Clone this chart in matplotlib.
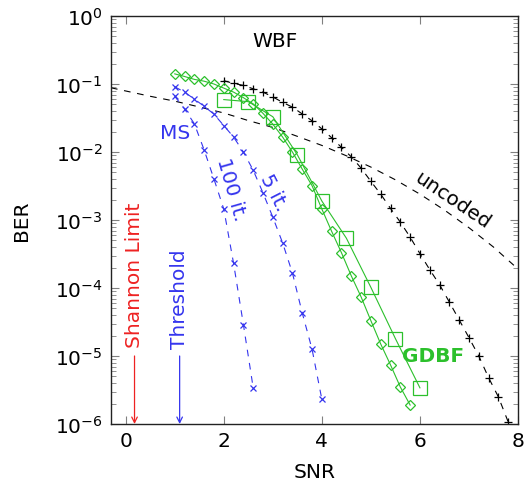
import numpy as np
import matplotlib
matplotlib.use("Agg")
import matplotlib.pyplot as plt

GREEN = '#2cc02c'
BLUE = '#3535ee'
RED = '#ee2222'

# uncoded BPSK reference
snr_unc = [-0.3, 0, 0.5, 1, 1.5, 2, 2.5, 3, 3.5, 4, 4.5, 5, 5.5, 6, 6.5, 7, 7.5, 8]
ber_unc = [0.088, 0.079, 0.066, 0.056, 0.046, 0.0375, 0.029, 0.023, 0.017, 0.0125,
           0.0088, 0.006, 0.0039, 0.0024, 0.0014, 0.00077, 0.0004, 0.00019]

# WBF
snr_wbf = [2.0, 2.2, 2.4, 2.6, 2.8, 3.0, 3.2, 3.4, 3.6, 3.8, 4.0, 4.2, 4.4, 4.6, 4.8,
           5.0, 5.2, 5.4, 5.6, 5.8, 6.0, 6.2, 6.4, 6.6, 6.8, 7.0, 7.2, 7.4, 7.6, 7.8]
ber_wbf = [0.112, 0.102, 0.0955, 0.085, 0.076, 0.0646, 0.0537, 0.0457, 0.0363, 0.0288,
           0.0219, 0.0162, 0.0117, 0.0085, 0.0058, 0.0037, 0.0024, 0.00148, 0.00093,
           0.00056, 0.00032, 0.000186, 0.000112, 6.2e-5, 3.4e-5, 1.86e-5, 1.0e-5,
           4.8e-6, 2.5e-6, 1.07e-6]

# GDBF (diamonds / squares)
snr_gd1 = [1.0, 1.2, 1.4, 1.6, 1.8, 2.0, 2.2, 2.4, 2.6, 2.8, 3.0, 3.2, 3.4, 3.6, 3.8,
           4.0, 4.2, 4.4, 4.6, 4.8, 5.0, 5.2, 5.4, 5.6, 5.8]
ber_gd1 = [0.141, 0.129, 0.117, 0.110, 0.100, 0.087, 0.076, 0.063, 0.051, 0.037,
           0.0257, 0.0166, 0.0100, 0.0056, 0.0032, 0.00145, 0.00068, 0.00033,
           0.000151, 7.4e-5, 3.3e-5, 1.5e-5, 7.4e-6, 3.5e-6, 1.9e-6]
snr_gd2 = [2.0, 2.5, 3.0, 3.5, 4.0, 4.5, 5.0, 5.5, 6.0]
ber_gd2 = [0.059, 0.055, 0.033, 0.0091, 0.0019, 0.00054, 0.000102, 1.8e-5, 3.4e-6]

# MS decoding
snr_ms100 = [1.0, 1.2, 1.4, 1.6, 1.8, 2.0, 2.2, 2.4, 2.6]
ber_ms100 = [0.066, 0.043, 0.026, 0.0107, 0.004, 0.00145, 0.00023, 2.9e-5, 3.4e-6]
snr_ms5 = [1.0, 1.2, 1.4, 1.6, 1.8, 2.0, 2.2, 2.4, 2.6, 2.8, 3.0, 3.2, 3.4, 3.6, 3.8, 4.0]
ber_ms5 = [0.091, 0.076, 0.060, 0.047, 0.036, 0.0245, 0.0166, 0.0100, 0.0054,
           0.0025, 0.0011, 0.00046, 0.000166, 4.3e-5, 1.26e-5, 2.3e-6]

shannon_snr = 0.18
threshold_snr = 1.1

FS = 14.5
plt.rcParams['font.family'] = 'DejaVu Sans'
fig = plt.figure(figsize=(5.25, 4.89), dpi=100)
ax = fig.add_axes([0.2114, 0.1309, 0.7753, 0.8343])

lw = 0.8
dash = (6, 6)
ax.plot(snr_unc, ber_unc, color='black', lw=lw, dashes=dash)
ax.plot(snr_wbf, ber_wbf, color='black', lw=lw, dashes=dash,
        marker='+', ms=5.5, mew=0.9)
ax.plot(snr_gd1, ber_gd1, color=GREEN, lw=lw, marker='D', ms=5.5,
        mfc='none', mew=0.9)
ax.plot(snr_gd2, ber_gd2, color=GREEN, lw=lw, marker='s', ms=10,
        mfc='none', mew=0.9)
ax.plot(snr_ms100, ber_ms100, color=BLUE, lw=lw, dashes=dash,
        marker='x', ms=4.5, mew=0.9)
ax.plot(snr_ms5, ber_ms5, color=BLUE, lw=lw, dashes=dash,
        marker='x', ms=4.5, mew=0.9)

# limits marked with arrows
ax.annotate('', xy=(shannon_snr, 1e-6), xytext=(shannon_snr, 1e-5),
            arrowprops=dict(arrowstyle='->', color=RED, lw=0.9, shrinkA=0, shrinkB=0))
ax.annotate('', xy=(threshold_snr, 1e-6), xytext=(threshold_snr, 1e-5),
            arrowprops=dict(arrowstyle='->', color=BLUE, lw=0.9, shrinkA=0, shrinkB=0))
ax.text(shannon_snr, 1.6e-4, 'Shannon Limit', color=RED, rotation=90,
        ha='center', va='center', fontsize=FS)
ax.text(threshold_snr, 7.2e-5, 'Threshold', color=BLUE, rotation=90,
        ha='center', va='center', fontsize=FS)

ax.text(3.04, 0.43, 'WBF', color='black', ha='center', va='center', fontsize=FS)
ax.text(6.67, 2.0e-3, 'uncoded', color='black', rotation=-34,
        ha='center', va='center', fontsize=FS)
ax.text(1.01, 0.0196, 'MS', color=BLUE, ha='center', va='center', fontsize=FS)
ax.text(2.15, 2.9e-3, '100 it.', color=BLUE, rotation=-74,
        ha='center', va='center', fontsize=FS)
ax.text(3.02, 2.6e-3, '5 it.', color=BLUE, rotation=-63,
        ha='center', va='center', fontsize=FS)
ax.text(6.26, 1.0e-5, 'GDBF', color=GREEN, fontweight='bold',
        ha='center', va='center', fontsize=FS)

ax.set_yscale('log')
ax.set_xlim(-0.3, 8)
ax.set_ylim(1e-6, 1)
ax.set_xticks([0, 2, 4, 6, 8])
ax.set_yticks([1e-6, 1e-5, 1e-4, 1e-3, 1e-2, 1e-1, 1])
ax.yaxis.set_minor_locator(matplotlib.ticker.LogLocator(base=10, subs=np.arange(2, 10)))
ax.yaxis.set_minor_formatter(matplotlib.ticker.NullFormatter())
ax.tick_params(which='both', direction='in', top=True, right=True,
               color='#808080', labelsize=FS)
ax.tick_params(which='major', length=6, width=0.8)
ax.tick_params(which='minor', length=3.5, width=0.6)
ax.tick_params(axis='x', pad=5)
ax.tick_params(axis='y', pad=6)
for s in ax.spines.values():
    s.set_linewidth(1.0)
    s.set_color('#222222')

ax.set_xlabel('SNR', fontsize=FS, labelpad=9)
ax.set_ylabel('BER', fontsize=FS, labelpad=17)

fig.savefig('out.png', dpi=100)
